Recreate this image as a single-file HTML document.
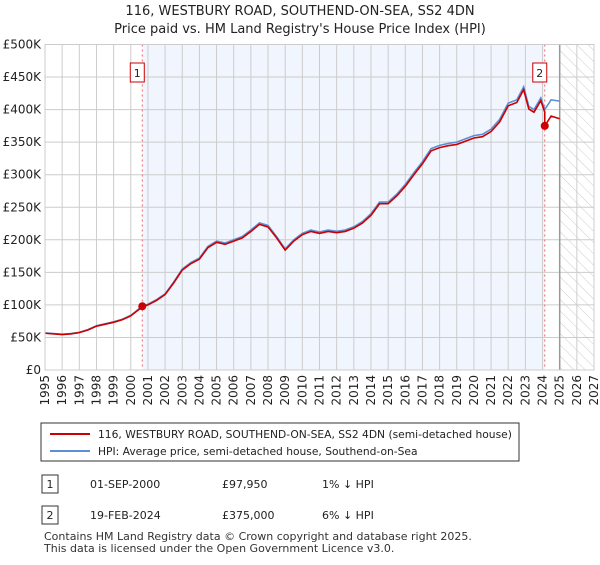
<!DOCTYPE html>
<html><head><meta charset="utf-8"><style>
body{margin:0;background:#fff;font-family:"Liberation Sans","DejaVu Sans",sans-serif;}
svg text{font-family:"DejaVu Sans","Liberation Sans",sans-serif;}
</style></head><body>
<svg width="600" height="560" viewBox="0 0 600 560">
<defs><pattern id="hatch" width="8" height="8" patternUnits="userSpaceOnUse" patternTransform="rotate(-45)"><line x1="0" y1="0" x2="0" y2="8" stroke="#ccc" stroke-width="1"/></pattern></defs>
<text x="300" y="15" text-anchor="middle" font-size="13" fill="#222">116, WESTBURY ROAD, SOUTHEND-ON-SEA, SS2 4DN</text>
<text x="300" y="33" text-anchor="middle" font-size="13" fill="#222">Price paid vs. HM Land Registry's House Price Index (HPI)</text>
<g id="plot"></g>
<g>
<rect x="41" y="423" width="478" height="38" fill="#fff" stroke="#333"/>
<line x1="50" y1="434" x2="90" y2="434" stroke="#cc0000" stroke-width="2"/>
<text x="98" y="438" font-size="10.7" fill="#222">116, WESTBURY ROAD, SOUTHEND-ON-SEA, SS2 4DN (semi-detached house)</text>
<line x1="50" y1="451" x2="90" y2="451" stroke="#5b8fd6" stroke-width="2"/>
<text x="98" y="455" font-size="10.7" fill="#222">HPI: Average price, semi-detached house, Southend-on-Sea</text>
</g>
<g font-size="11" fill="#222">
<rect x="42" y="475" width="16" height="18" fill="#fff" stroke="#333"/><text x="50" y="488" text-anchor="middle">1</text>
<text x="90" y="488">01-SEP-2000</text><text x="222" y="488">£97,950</text><text x="322" y="488">1% ↓ HPI</text>
<rect x="42" y="506" width="16" height="18" fill="#fff" stroke="#333"/><text x="50" y="519" text-anchor="middle">2</text>
<text x="90" y="519">19-FEB-2024</text><text x="222" y="519">£375,000</text><text x="322" y="519">6% ↓ HPI</text>
</g>
<text x="44" y="540" font-size="11" fill="#333">Contains HM Land Registry data © Crown copyright and database right 2025.</text>
<text x="44" y="552" font-size="11" fill="#333">This data is licensed under the Open Government Licence v3.0.</text>
</svg>
<script>
const hpiYears=[1995,1996,1996.5,1997,1997.5,1998,1999,1999.5,2000,2000.67,2001,2001.5,2002,2002.5,2003,2003.5,2004,2004.5,2005,2005.5,2006,2006.5,2007,2007.5,2008,2008.5,2009,2009.5,2010,2010.5,2011,2011.5,2012,2012.5,2013,2013.5,2014,2014.5,2015,2015.5,2016,2016.5,2017,2017.5,2018,2018.5,2019,2019.5,2020,2020.5,2021,2021.5,2022,2022.5,2022.9,2023.2,2023.5,2023.9,2024.13,2024.5,2025];
const hpiValues=[57,55,56,58,62,68,74,78,84,98,101,108,117,135,155,165,172,190,198,195,200,205,215,226,222,205,186,200,210,215,212,215,213,215,220,228,240,258,258,270,285,303,320,340,345,348,350,355,360,362,370,385,410,415,435,405,400,418,400,415,413];
const priceYears=[2024.13,2024.5,2025];
const priceValues=[375,390,386];
const yTicks=[0,50,100,150,200,250,300,350,400,450,500];
const xTicks=[1995,1996,1997,1998,1999,2000,2001,2002,2003,2004,2005,2006,2007,2008,2009,2010,2011,2012,2013,2014,2015,2016,2017,2018,2019,2020,2021,2022,2023,2024,2025,2026,2027];
const sales=[{label:'1',year:2000.67,value:97.95},{label:'2',year:2024.13,value:375}];
const X0=45,X1=594,Y0=370,Y1=44.5;
const xs=y=>X0+(y-1995)/(2027-1995)*(X1-X0);
const ys=v=>Y0-v/500*(Y0-Y1);
const NS='http://www.w3.org/2000/svg';
const g=document.getElementById('plot');
function mk(t,a,p){const e=document.createElementNS(NS,t);for(const k in a)e.setAttribute(k,a[k]);(p||g).appendChild(e);return e;}
let e;
e=mk('rect',{x:xs(2000.67),y:Y1,width:xs(2024.13)-xs(2000.67),height:Y0-Y1,fill:'#eef3fd',opacity:0.8});


e=mk('rect',{x:xs(2025),y:Y1,width:X1-xs(2025),height:Y0-Y1,fill:'url(#hatch)'});


yTicks.forEach(v=>{
 e=mk('line',{x1:X0,x2:X1,y1:ys(v),y2:ys(v),stroke:'#ccc'});
 
 
 e=mk('text',{x:X0-4,y:ys(v)+4,'text-anchor':'end','font-size':12,fill:'#222'});
 e.textContent=v===0?'£0':'£'+v+'K';
 
 
});
xTicks.forEach(y=>{
 e=mk('line',{x1:xs(y),x2:xs(y),y1:Y1,y2:Y0,stroke:'#ccc'});
 
 
 e=mk('text',{x:0,y:0,'text-anchor':'end','font-size':12,fill:'#222',transform:`translate(${xs(y)+4},${Y0+5}) rotate(-90)`});
 e.textContent=y;
 
 
});
e=mk('line',{x1:xs(2025),x2:xs(2025),y1:Y1,y2:Y0,stroke:'#999','stroke-width':1.5});


sales.forEach(s=>{
 e=mk('line',{x1:xs(s.year),x2:xs(s.year),y1:Y1,y2:Y0,stroke:'#e66','stroke-dasharray':'2,3'});
 
 
});
e=mk('polyline',{points:hpiYears.map((y,i)=>xs(y)+','+ys(hpiValues[i])).join(' '),fill:'none',stroke:'#5b8fd6','stroke-width':1.6});


const pts=[];hpiYears.forEach((y,i)=>{if(y<=2024.13)pts.push(xs(y)+','+ys(hpiValues[i]*0.99));});
priceYears.forEach((y,i)=>pts.push(xs(y)+','+ys(priceValues[i])));
e=mk('polyline',{points:pts.join(' '),fill:'none',stroke:'#cc0000','stroke-width':1.6});


sales.forEach(s=>{
 e=mk('circle',{cx:xs(s.year),cy:ys(s.value),r:4,fill:'#cc0000'});
 
 
 e=mk('rect',{x:xs(s.year)-12,y:63,width:14,height:19,fill:'#fff',stroke:'#cc0000'});
 
 
 e=mk('text',{x:xs(s.year)-5,y:77,'text-anchor':'middle','font-size':11,fill:'#222'});
 e.textContent=s.label;
 
 
});
e=mk('rect',{x:X0,y:Y1,width:X1-X0,height:Y0-Y1,fill:'none',stroke:'#ccc'});


</script>
</body></html>
